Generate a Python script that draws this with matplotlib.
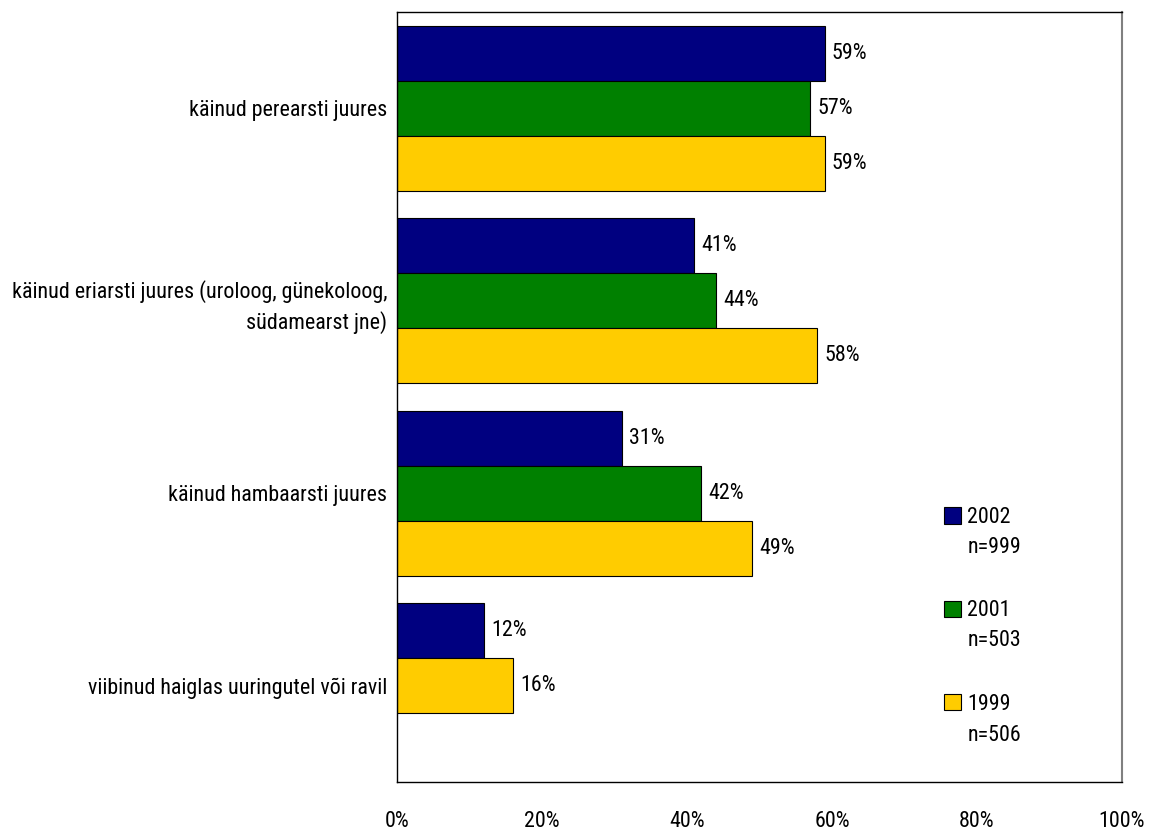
import matplotlib
matplotlib.use("Agg")
import matplotlib.pyplot as plt
from matplotlib.patches import Patch

plt.rcParams['font.family'] = ['Roboto Condensed', 'DejaVu Sans']

categories = [
    "käinud perearsti juures",
    "käinud eriarsti juures (uroloog, günekoloog,\nsüdamearst jne)",
    "käinud hambaarsti juures",
    "viibinud haiglas uuringutel või ravil",
]
series_names = ["2002", "2001", "1999"]
series_n = ["n=999", "n=503", "n=506"]
values_2002 = [59, 41, 31, 12]
values_2001 = [57, 44, 42, None]
values_1999 = [59, 58, 49, 16]
colors = ["#000080", "#008000", "#FFCC00"]
x_ticks = [0, 20, 40, 60, 80, 100]
x_ticklabels = ["0%", "20%", "40%", "60%", "80%", "100%"]

all_values = [values_2002, values_2001, values_1999]

fig = plt.figure(figsize=(11.51, 8.34), dpi=100)
ax = fig.add_axes([0.3449, 0.0624, 0.6299, 0.9233])

bar_h = 2 / 7
fs = 15.8
for ci in range(len(categories)):
    slot = 0
    for si, vals in enumerate(all_values):
        v = vals[ci]
        if v is None:
            continue
        y = ci - 3 / 7 + (slot + 0.5) * bar_h
        ax.barh(y, v, height=bar_h, color=colors[si], edgecolor="black",
                linewidth=0.8)
        ax.annotate(f"{v}%", xy=(v, y), xytext=(5, 0), textcoords="offset points",
                    ha="left", va="center", fontsize=fs)
        slot += 1

ax.set_xlim(0, 100)
ax.set_ylim(3.5, -0.5)
ax.set_yticks(range(len(categories)))
ax.set_yticklabels(categories, fontsize=fs, linespacing=1.45)
ax.set_xticks(x_ticks)
ax.set_xticklabels(x_ticklabels, fontsize=fs)
ax.tick_params(axis="both", length=0)
ax.tick_params(axis="x", pad=21)
ax.tick_params(axis="y", pad=7)

for side in ["left", "bottom", "top"]:
    ax.spines[side].set_color("black")
    ax.spines[side].set_linewidth(1.0)
ax.spines["right"].set_color("#808080")
ax.spines["right"].set_linewidth(1.5)

# legend: year with colour key, sample size written underneath
handles = [Patch(facecolor=c, edgecolor="black", linewidth=0.8) for c in colors]
ax.legend(handles, series_names, loc="upper left", bbox_to_anchor=(0.7545, 0.3571),
          frameon=False, fontsize=fs, handlelength=0.78, handleheight=0.78,
          handletextpad=0.27, labelspacing=3.3, borderpad=0, borderaxespad=0)
n_y = [0.3039, 0.1831, 0.0597]
for label, yy in zip(series_n, n_y):
    ax.text(0.7876, yy, label, transform=ax.transAxes, ha="left", va="center",
            fontsize=fs)

fig.savefig("out.png", dpi=100)
